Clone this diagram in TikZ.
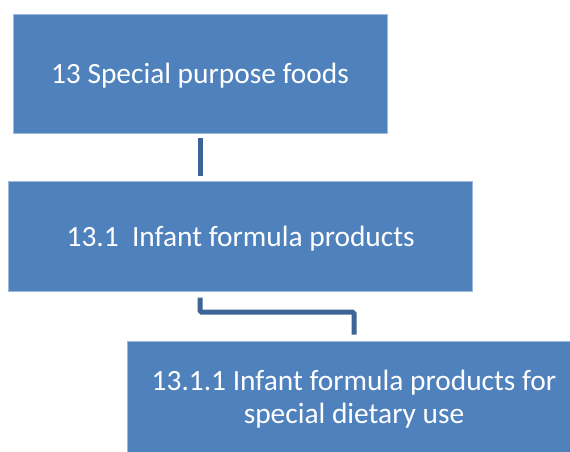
\documentclass[tikz,border=0pt]{standalone}
\usepackage{fontspec}
\setmainfont{Carlito}
\definecolor{boxblue}{RGB}{79,129,189}
\definecolor{linkblue}{RGB}{60,100,150}

\begin{document}
\begin{tikzpicture}[x=1pt,y=-1pt,
		box/.style={fill=boxblue,draw=boxblue!55!white,line width=0.6pt,text=white,inner sep=0pt,align=center,
			text depth=0pt,font=\fontsize{29.4}{33}\selectfont},
		link/.style={draw=linkblue,line width=5pt,rounded corners=1.5pt}]
		\clip (0,0) rectangle (570,452);
		\node [box,minimum width=374pt,minimum height=118.5pt] (Special foods) at (200,73.7) {13 Special purpose foods};
		\node [box,minimum width=464pt,minimum height=110pt] (Infant formula) at (240.7,236.7) {13.1~~Infant formula products};
		\node [box,minimum width=454pt,minimum height=111pt] (Dietary use) at (354,396.5) {13.1.1 Infant formula products for\\special dietary use};
		\draw [link] ([yshift=-5pt]Special foods.south) -- ([yshift=5.5pt]Special foods.south |- Infant formula.north);
		\draw [link] ([yshift=-5.5pt]Special foods.south |- Infant formula.south) -- ++(0,14.6) -| ([yshift=6pt]Dietary use.north);
	\end{tikzpicture}
\end{document}
